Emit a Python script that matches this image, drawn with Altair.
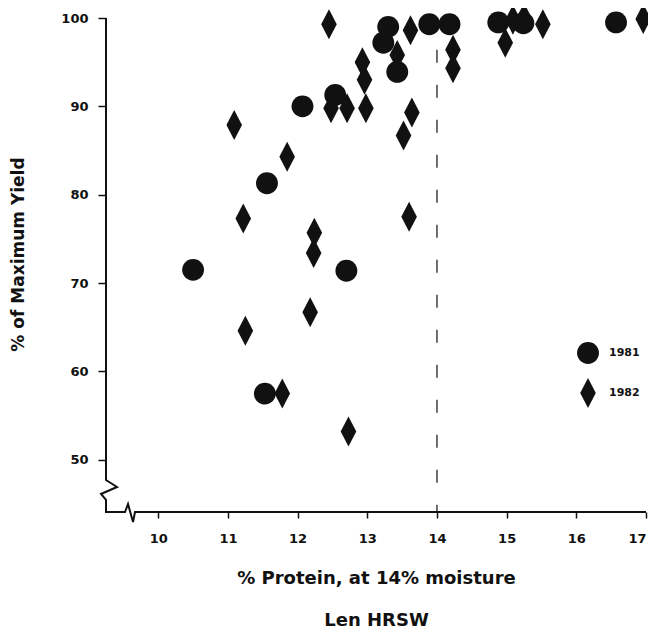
import altair as alt
import pandas as pd

# ---- data ----
years = ["1981", "1982"]
protein_1981 = [10.50, 11.53, 11.56, 12.07, 12.54, 12.70, 13.23, 13.30, 13.43, 13.89, 14.18, 14.88, 15.24, 16.57]
yield_1981 = [71.5, 57.5, 81.3, 90.0, 91.3, 71.4, 97.2, 99.0, 93.9, 99.3, 99.3, 99.5, 99.4, 99.5]
protein_1982 = [11.09, 11.22, 11.25, 11.78, 11.85, 12.18, 12.23, 12.24, 12.45, 12.48, 12.71, 12.73,
                12.93, 12.96, 12.98, 13.43, 13.52, 13.60, 13.62, 13.64, 14.23, 14.23, 14.98, 15.09,
                15.25, 15.52, 16.96]
yield_1982 = [87.9, 77.3, 64.6, 57.5, 84.3, 66.7, 73.4, 75.7, 99.3, 89.8, 89.8, 53.2,
              95.0, 93.0, 89.8, 95.8, 86.7, 77.5, 98.6, 89.3, 96.4, 94.3, 97.2, 99.8,
              100.0, 99.3, 99.9]
x_ticks = [10, 11, 12, 13, 14, 15, 16, 17]
y_ticks = [50, 60, 70, 80, 90, 100]
x_title = ["% Protein, at 14% moisture", "Len HRSW"]
y_title = "% of Maximum Yield"
ref_protein = [14]
ref_top = [96.4]
x_domain = [9.25, 17.0]
y_domain = [44.1, 100.0]

# axis frame with break marks (broken axes)
frame_x = [9.25, 9.25, 9.408, 9.178, 9.25, 9.25, 9.523, 9.566, 9.638, 9.666, 17.0]
frame_y = [100.0, 47.72, 46.93, 46.14, 45.46, 44.1, 44.1, 45.0, 42.96, 44.1, 44.1]

CIRCLE = "M-0.73,0A0.73,0.73 0 1,0 0.73,0A0.73,0.73 0 1,0 -0.73,0Z"
DIAMOND = "M0,-1L0.52,0L0,1L-0.52,0Z"

FONT = "DejaVu Sans"
INK = "#111111"

df = pd.DataFrame({
    "protein": protein_1981 + protein_1982,
    "yield": yield_1981 + yield_1982,
    "year": [years[0]] * len(protein_1981) + [years[1]] * len(protein_1982),
})
ref_df = pd.DataFrame({"protein": ref_protein, "yield": ref_top, "bottom": [y_domain[0]]})
frame_df = pd.DataFrame({"protein": frame_x, "yield": frame_y, "i": list(range(len(frame_x)))})

xs = alt.Scale(domain=x_domain, nice=False, zero=False)
ys = alt.Scale(domain=y_domain, nice=False, zero=False)

x_axis = alt.Axis(
    values=x_ticks, domain=False, grid=False, tickSize=6, tickWidth=1.5, tickColor=INK,
    labelFont=FONT, labelFontSize=13, labelFontWeight="bold", labelColor=INK,
    labelPadding=14, labelFlush=True,
    title=x_title, titleFont=FONT, titleFontSize=18, titleFontWeight="bold", titleColor=INK,
    titleBaseline="alphabetic", titleLineHeight=42, titleX=270, titleY=71, titleAlign="center",
)
y_axis = alt.Axis(
    values=y_ticks, domain=False, grid=False, tickSize=8, tickWidth=1.5, tickColor=INK,
    labelFont=FONT, labelFontSize=13, labelFontWeight="bold", labelColor=INK, labelPadding=10,
    title=y_title, titleFont=FONT, titleFontSize=17, titleFontWeight="bold", titleColor=INK,
    titleAngle=-90, titleBaseline="middle", titleAlign="center", titleX=-88, titleY=236,
)

points = alt.Chart(df).mark_point(filled=True, size=900, opacity=1, color=INK, strokeWidth=0).encode(
    x=alt.X("protein:Q", scale=xs, axis=x_axis),
    y=alt.Y("yield:Q", scale=ys, axis=y_axis),
    shape=alt.Shape("year:N", scale=alt.Scale(domain=years, range=[CIRCLE, DIAMOND]), legend=alt.Legend(
        title=None, orient="none", legendX=467, legendY=320, symbolSize=900,
        symbolFillColor=INK, symbolStrokeWidth=0, symbolOpacity=1,
        labelFont=FONT, labelFontSize=11, labelFontWeight="bold", labelColor=INK,
        labelOffset=6, rowPadding=14, padding=0,
    )),
)

ref_line = alt.Chart(ref_df).mark_rule(strokeDash=[13, 22], strokeWidth=1.3, color="#222222").encode(
    x=alt.X("protein:Q", scale=xs, axis=x_axis),
    y=alt.Y("yield:Q", scale=ys, axis=y_axis),
    y2="bottom:Q",
)

frame = alt.Chart(frame_df).mark_line(strokeWidth=2, color=INK, strokeJoin="miter").encode(
    x=alt.X("protein:Q", scale=xs, axis=x_axis),
    y=alt.Y("yield:Q", scale=ys, axis=y_axis),
    order="i:Q",
)

chart = alt.layer(points, ref_line, frame).properties(
    width=540, height=494,
    autosize=alt.AutoSizeParams(type="none"),
    padding={"left": 98, "right": 2, "top": 10, "bottom": 116},
    background="white",
).configure_view(stroke=None)

chart.save("out.html", embed_options={"renderer": "svg", "actions": False})
